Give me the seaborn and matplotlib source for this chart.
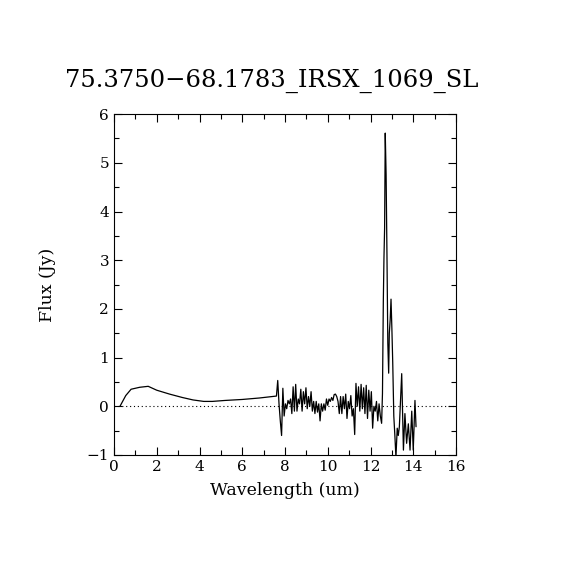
import pandas as pd
import seaborn as sns
import matplotlib
matplotlib.use("Agg")
import matplotlib.pyplot as plt
from matplotlib.ticker import MultipleLocator

title = "75.3750\u221268.1783_IRSX_1069_SL"

# smooth low resolution part
wl_smooth = [0.28, 0.55, 0.80, 1.20, 1.60, 2.00, 2.60, 3.20, 3.70, 4.20, 4.60, 5.20, 6.00, 6.80, 7.60]
fx_smooth = [0.00, 0.22, 0.35, 0.39, 0.41, 0.33, 0.25, 0.18, 0.13, 0.10, 0.10, 0.12, 0.14, 0.17, 0.21]

# noisy SL part
wl_noise = [7.66, 7.72, 7.78, 7.84, 7.90, 7.96, 8.02, 8.08, 8.14, 8.20,
            8.26, 8.32, 8.38, 8.44, 8.50, 8.56, 8.62, 8.68, 8.74, 8.80,
            8.86, 8.92, 8.98, 9.04, 9.10, 9.16, 9.22, 9.28, 9.34, 9.40,
            9.46, 9.52, 9.58, 9.64, 9.70, 9.76, 9.82, 9.88, 9.94, 10.00,
            10.06, 10.12, 10.18, 10.24, 10.30, 10.36, 10.42, 10.48, 10.54, 10.60,
            10.66, 10.72, 10.78, 10.84, 10.90, 10.96, 11.02, 11.08, 11.14, 11.20,
            11.26, 11.32, 11.38, 11.44, 11.50, 11.56, 11.62, 11.68, 11.74, 11.80,
            11.86, 11.92, 11.98, 12.04, 12.10, 12.16, 12.22, 12.28, 12.34, 12.40,
            12.46]
fx_noise = [0.53, 0.05, -0.30, -0.60, 0.37, -0.20, 0.05, -0.05, 0.12, 0.05,
            0.15, -0.15, 0.40, -0.10, 0.45, -0.10, 0.15, 0.05, 0.35, -0.10,
            0.30, 0.05, 0.38, -0.05, 0.20, 0.00, 0.30, -0.10, 0.10, -0.15,
            0.10, -0.12, 0.05, -0.30, 0.05, -0.10, 0.05, -0.08, 0.15, 0.02,
            0.15, 0.10, 0.18, 0.12, 0.24, 0.25, 0.20, 0.10, -0.15, 0.20,
            -0.15, 0.20, -0.05, 0.25, -0.25, 0.10, -0.05, 0.22, -0.20, -0.05,
            -0.58, 0.47, 0.00, 0.40, -0.10, 0.45, -0.05, 0.38, -0.15, 0.43,
            -0.25, 0.33, -0.10, 0.30, -0.45, 0.00, -0.10, 0.10, -0.30, 0.05,
            -0.20]

# emission line region
wl_peak = [12.52, 12.56, 12.60, 12.63, 12.66, 12.69, 12.73, 12.77, 12.81, 12.85,
           12.88, 12.92, 12.96, 13.00, 13.04, 13.09, 13.14, 13.19, 13.25, 13.30,
           13.35, 13.46, 13.54, 13.61, 13.69, 13.77, 13.85, 13.93, 14.00, 14.08,
           14.13]
fx_peak = [-0.35, 0.26, 2.16, 3.05, 3.66, 5.61, 4.76, 3.12, 1.30, 0.68,
           1.50, 1.77, 2.20, 1.60, 0.90, -0.20, -0.60, -1.05, -0.45, -0.60,
           -0.42, 0.67, -0.90, -0.15, -0.76, -0.36, -0.90, -0.10, -0.90, 0.12,
           -0.42]

df = pd.DataFrame({
    "wl": wl_smooth + wl_noise + wl_peak,
    "flux": fx_smooth + fx_noise + fx_peak,
})

sns.set_style("ticks")
plt.rcParams["font.family"] = ["DejaVu Serif"]
plt.rcParams["text.color"] = "black"
plt.rcParams["axes.labelcolor"] = "black"

fig = plt.figure(figsize=(5.7, 5.7), dpi=100)
ax = fig.add_axes([0.2, 0.2018, 0.6, 0.598])

sns.lineplot(data=df, x="wl", y="flux", ax=ax, sort=False, estimator=None,
             color="black", linewidth=0.9)
ax.axhline(0, color="black", linestyle=(0, (1, 2.5)), linewidth=0.8)

ax.set_xlim(0, 16)
ax.set_ylim(-1, 6)
ax.xaxis.set_major_locator(MultipleLocator(2))
ax.xaxis.set_minor_locator(MultipleLocator(1))
ax.yaxis.set_major_locator(MultipleLocator(1))
ax.yaxis.set_minor_locator(MultipleLocator(0.5))
ax.tick_params(which="both", direction="in", top=True, right=True,
               colors="black", labelsize=11, width=0.8)
ax.tick_params(which="major", length=6)
ax.tick_params(which="minor", length=3.5)
for s in ax.spines.values():
    s.set_color("black")
    s.set_linewidth(0.8)

ax.set_xlabel("Wavelength (um)", fontsize=12.5, labelpad=6)
ax.set_ylabel("Flux (Jy)", fontsize=12.5, labelpad=22)
ax.set_title(title, fontsize=17.5, pad=20, color="black", x=0.462)

fig.savefig("out.png", dpi=100, facecolor="white")
